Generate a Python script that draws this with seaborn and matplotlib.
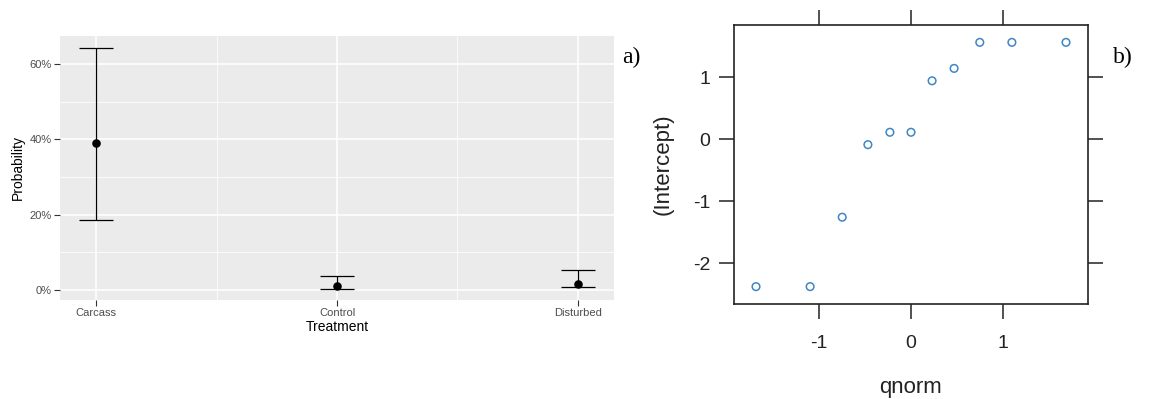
import matplotlib
matplotlib.use("Agg")
import matplotlib.pyplot as plt
import seaborn as sns
import numpy as np
import pandas as pd
from matplotlib.ticker import FuncFormatter, FixedLocator

# ---- data: panel a ----
treatments = ["Carcass", "Control", "Disturbed"]
prob_mean = [0.391, 0.0115, 0.017]
prob_low = [0.185, 0.004, 0.008]
prob_high = [0.642, 0.036, 0.053]

# ---- data: panel b ----
qnorm_vals = [-1.69, -1.10, -0.75, -0.47, -0.23, 0.00, 0.23, 0.47, 0.75, 1.10, 1.69]
intercept_vals = [-2.38, -2.38, -1.26, -0.09, 0.11, 0.11, 0.94, 1.14, 1.56, 1.56, 1.56]

sns.set_theme(style="white")
plt.rcParams['font.family'] = ['Liberation Sans', 'DejaVu Sans']

fig = plt.figure(figsize=(11.5, 3.99), dpi=100)

# ---------------- panel a (ggplot style) ----------------
ax1 = fig.add_axes([60/1150, 1-300/399, (614-60)/1150, (300-36)/399])
ax1.set_facecolor("#EBEBEB")
dfa = pd.DataFrame({"Treatment": treatments, "Probability": prob_mean,
                    "low": prob_low, "high": prob_high})
yerr = np.array([dfa["Probability"] - dfa["low"], dfa["high"] - dfa["Probability"]])
ax1.errorbar(dfa["Treatment"], dfa["Probability"], yerr=yerr, fmt="none",
             ecolor="black", elinewidth=0.9, capsize=12, capthick=0.9, zorder=3)
sns.scatterplot(data=dfa, x="Treatment", y="Probability", ax=ax1, color="black",
                s=38, edgecolor="black", linewidth=0, zorder=4)
ax1.set_xlim(-0.15, 2.15)
ax1.set_ylim(-0.0265, 0.674)
ax1.yaxis.set_major_locator(FixedLocator([0, 0.2, 0.4, 0.6]))
ax1.yaxis.set_minor_locator(FixedLocator([0.1, 0.3, 0.5]))
ax1.xaxis.set_minor_locator(FixedLocator([0.5, 1.5]))
ax1.yaxis.set_major_formatter(FuncFormatter(lambda v, p: f"{v*100:.0f}%"))
ax1.grid(True, which="major", color="white", linewidth=1.1)
ax1.grid(True, which="minor", color="white", linewidth=0.55)
ax1.set_axisbelow(True)
for s in ax1.spines.values():
    s.set_visible(False)
ax1.tick_params(axis="both", which="major", length=4, width=0.8, color="#333333",
                labelsize=8, labelcolor="#4D4D4D", pad=2, left=True, bottom=True)
ax1.tick_params(axis="both", which="minor", length=0)
ax1.set_xlabel("Treatment", fontsize=10, color="black", labelpad=1)
ax1.set_ylabel("Probability", fontsize=10, color="black", labelpad=3)

# ---------------- panel b (lattice style) ----------------
ax2 = fig.add_axes([734/1150, 1-304/399, (1088-734)/1150, (304-25)/399])
dfb = pd.DataFrame({"qnorm": qnorm_vals, "(Intercept)": intercept_vals})
sns.scatterplot(data=dfb, x="qnorm", y="(Intercept)", ax=ax2, marker="o",
                facecolor="none", edgecolor="#3f86c4", linewidth=1.1, s=30)
ax2.set_xlim(-1.93, 1.93)
ax2.set_ylim(-2.66, 1.84)
ax2.set_xticks([-1, 0, 1])
ax2.set_yticks([-2, -1, 0, 1])
ax2.set_xticklabels(["-1", "0", "1"])
ax2.set_yticklabels(["-2", "-1", "0", "1"])
for s in ax2.spines.values():
    s.set_visible(True)
    s.set_color("#222222")
    s.set_linewidth(1.2)
ax2.tick_params(axis="both", direction="out", length=11, width=1.1, color="#222222",
                labelsize=14, labelcolor="#222222", pad=6,
                top=True, right=True, labeltop=False, labelright=False,
                bottom=True, left=True)
ax2.tick_params(axis="x", pad=11)
ax2.set_xlabel("qnorm", fontsize=16, color="#222222", labelpad=18)
ax2.set_ylabel("(Intercept)", fontsize=16, color="#222222", labelpad=14)

# panel letters
fig.text(622/1150, 1-57/399, "a)", fontsize=17, family=["Liberation Serif", "DejaVu Serif"],
         va="center", ha="left", color="black")
fig.text(1113/1150, 1-57/399, "b)", fontsize=17, family=["Liberation Serif", "DejaVu Serif"],
         va="center", ha="left", color="black")

fig.savefig("out.png", dpi=100, facecolor="white")
